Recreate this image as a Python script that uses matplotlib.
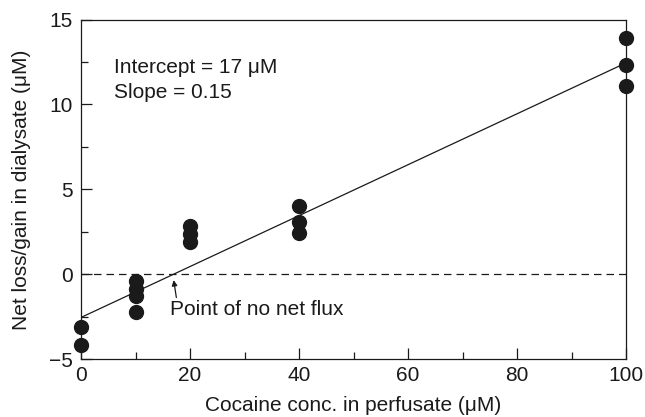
import numpy as np
import matplotlib.pyplot as plt
from matplotlib.ticker import MultipleLocator

plt.rcParams['font.family'] = ['Liberation Sans', 'DejaVu Sans']

# Measured net loss/gain at each perfusate concentration (µM)
conc_0 = [-3.1, -4.15]
conc_10 = [-0.4, -0.9, -1.3, -2.2]
conc_20 = [2.85, 2.35, 1.9]
conc_40 = [4.0, 3.1, 2.4]
conc_100 = [13.9, 12.35, 11.1]
groups = {0: conc_0, 10: conc_10, 20: conc_20, 40: conc_40, 100: conc_100}

# Regression line: zero crossing (point of no net flux) and slope
intercept_x = 17
slope = 0.15

FS = 15
INK = '#1a1a1a'

fig = plt.figure(figsize=(6.45, 4.17), dpi=100)
ax = fig.add_axes([0.1256, 0.139, 0.845, 0.814])

for c, vals in groups.items():
    ax.plot([c] * len(vals), vals, 'o', color=INK, markersize=10,
            clip_on=False, zorder=3)

xl = np.array([0, 100])
ax.plot(xl, slope * (xl - intercept_x), color=INK, lw=0.9, zorder=2)
ax.axhline(0, color=INK, lw=0.9, ls=(0, (6, 4)), zorder=1)

ax.annotate('Point of no net flux', xy=(intercept_x, -0.35), xytext=(16.3, -2.1),
            fontsize=FS, va='center', ha='left', color=INK,
            arrowprops=dict(arrowstyle='-|>', color=INK, lw=0.9,
                            mutation_scale=8, shrinkA=0, shrinkB=0,
                            relpos=(0.04, 1.0)))

ax.text(6.0, 12.2, 'Intercept = 17 μM', fontsize=FS, va='center', color=INK)
ax.text(6.0, 10.7, 'Slope = 0.15', fontsize=FS, va='center', color=INK)

ax.set_xlim(0, 100)
ax.set_ylim(-5, 15)
ax.xaxis.set_major_locator(MultipleLocator(20))
ax.xaxis.set_minor_locator(MultipleLocator(10))
ax.yaxis.set_major_locator(MultipleLocator(5))
ax.yaxis.set_minor_locator(MultipleLocator(2.5))
ax.set_yticks([15, 10, 5, 0, -5])
ax.set_yticklabels(['15', '10', '5', '0', '\u22125'])
ax.tick_params(which='both', direction='in', colors=INK, labelsize=FS, width=0.9)
ax.tick_params(which='major', length=8, pad=5)
ax.tick_params(which='minor', length=5)
ax.tick_params(axis='y', which='major', pad=6)
for s in ax.spines.values():
    s.set_linewidth(0.9)
    s.set_color(INK)

ax.set_xlabel('Cocaine conc. in perfusate (μM)', fontsize=FS, color=INK, labelpad=8)
ax.set_ylabel('Net loss/gain in dialysate (μM)', fontsize=FS, color=INK, labelpad=13)

fig.savefig('out.png', dpi=100)
